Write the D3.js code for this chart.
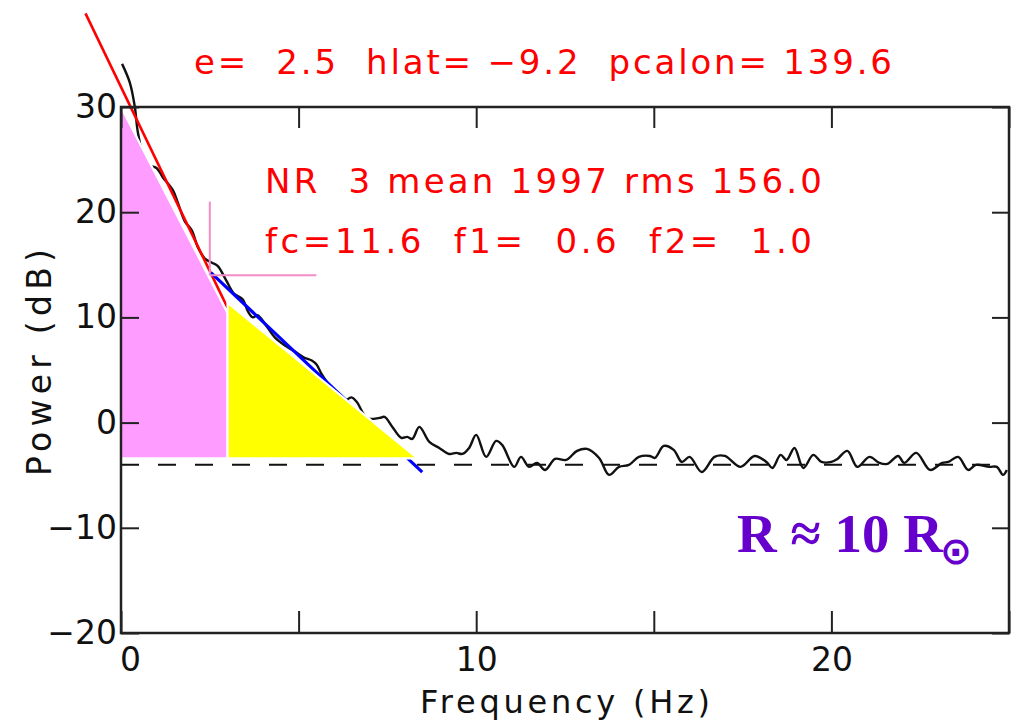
<!DOCTYPE html>
<html>
<head>
<meta charset="utf-8">
<script src="https://cdn.jsdelivr.net/npm/d3@7"></script>
<style>
  body { margin: 0; background: #fff; }
  svg { display: block; }
</style>
</head>
<body>
<script>
var width = 1014;
var height = 726;

// spectrum (Hz, dB)
var freq = [0.03, 0.25, 0.39, 0.48, 0.72, 1.00, 1.18, 1.46, 1.60, 1.80, 1.99, 2.16, 2.36, 2.56, 2.72, 2.95,
    3.17, 3.43, 3.57, 3.71, 3.85, 4.07, 4.33, 4.63, 4.92, 5.14, 5.37, 5.51, 5.65, 6.01, 6.24, 6.49, 6.63,
    6.94, 7.28, 7.42, 7.64, 7.89, 8.06, 8.20, 8.40, 8.68, 8.96, 9.24, 9.44, 9.61, 9.80, 10.00, 10.28,
    10.56, 10.73, 11.07, 11.26, 11.49, 11.71, 11.94, 12.22, 12.53, 12.84, 13.12, 13.46, 13.74, 14.02,
    14.30, 14.58, 14.89, 15.03, 15.28, 15.56, 15.79, 16.01, 16.35, 16.71, 17.00, 17.44, 17.84, 18.17,
    18.34, 18.57, 18.74, 18.96, 19.21, 19.49, 19.72, 20.00, 20.17, 20.45, 20.73, 21.07, 21.35, 21.57,
    21.88, 22.05, 22.39, 22.78, 23.12, 23.29, 23.57, 23.85, 24.07, 24.44, 24.66, 24.83, 24.94];
var power = [34.1, 32.3, 30.0, 27.5, 24.6, 24.2, 23.3, 22.1, 20.9, 19.1, 18.3, 16.7, 15.6, 15.2, 14.9, 13.6,
    12.3, 11.7, 10.6, 10.0, 10.2, 9.3, 8.1, 7.3, 6.7, 6.2, 5.9, 5.5, 4.6, 2.9, 2.0, 2.4, 2.0,
    0.4, 0.45, 0.54, -0.41, -1.45, -1.36, -1.55, -0.41, -1.84, -2.41, -2.98, -2.88, -2.98, -2.41, -1.17, -3.26,
    -1.74, -2.12, -4.21, -3.26, -4.21, -3.83, -4.50, -3.45, -3.55, -2.69, -2.50, -3.36, -4.97, -4.21,
    -4.02, -3.26, -3.17, -3.36, -2.22, -2.59, -3.74, -3.26, -4.69, -3.26, -3.17, -4.21, -3.17, -3.74,
    -4.31, -3.07, -3.55, -2.41, -4.31, -3.07, -3.74, -3.74, -3.45, -2.69, -4.21, -3.26, -3.83, -3.93,
    -3.17, -3.83, -2.88, -4.50, -3.83, -3.74, -3.26, -4.50, -4.02, -4.21, -4.21, -4.97, -4.50];

var pinkArea = [[0, 30], [3.0, 10.4], [3.0, -3.4], [0, -3.4]];
var yellowArea = [[3.0, 11.4], [8.35, -3.4], [3.0, -3.4]];
var redFit = [[-1.0, 38.9], [3.0, 10.9]];
var blueFit = [[2.53, 14.25], [8.48, -4.7]];
var crossV = [[2.5, 21.0], [2.5, 14.0]];
var crossH = [[2.5, 14.0], [5.5, 14.0]];
var noiseLevel = -4.0;

var xTicks = [0, 5, 10, 15, 20, 25];
var xLabels = [0, 10, 20];
var yTicks = [-20, -10, 0, 10, 20, 30];

var infoLines = [
    "e=  2.5  hlat= \u22129.2  pcalon= 139.6",
    "NR  3 mean 1997 rms 156.0",
    "fc=11.6  f1=  0.6  f2=  1.0"
];

var x = d3.scaleLinear().domain([0, 25]).range([121, 1009]);
var y = d3.scaleLinear().domain([-20, 30]).range([633, 107]);

var font = "'DejaVu Sans', sans-serif";

var svg = d3.select("body").append("svg")
    .attr("width", width)
    .attr("height", height);

var line = d3.line()
    .x(function(d) { return x(d[0]); })
    .y(function(d) { return y(d[1]); });

// measured spectrum
svg.append("path")
    .datum(d3.zip(freq, power))
    .attr("fill", "none")
    .attr("stroke", "#111")
    .attr("stroke-width", 2.4)
    .attr("d", line.curve(d3.curveCatmullRom));

line.curve(d3.curveLinear);

svg.append("path").datum(redFit)
    .attr("d", line).attr("stroke", "#ff0000").attr("stroke-width", 2.6);
svg.append("path").datum(blueFit)
    .attr("d", line).attr("stroke", "#0000ff").attr("stroke-width", 3.2);

// shaded power areas
svg.append("path").datum(pinkArea)
    .attr("d", function(d) { return line(d) + "Z"; })
    .attr("fill", "#ff9cff").attr("stroke", "#fff").attr("stroke-width", 2.2);
svg.append("path").datum(yellowArea)
    .attr("d", function(d) { return line(d) + "Z"; })
    .attr("fill", "#ffff00").attr("stroke", "#fff").attr("stroke-width", 2.2);

svg.append("path").datum(crossV)
    .attr("d", line).attr("stroke", "#f48cc8").attr("stroke-width", 2);
svg.append("path").datum(crossH)
    .attr("d", line).attr("stroke", "#f48cc8").attr("stroke-width", 2);

svg.append("line")
    .attr("x1", x(0)).attr("x2", x(25))
    .attr("y1", y(noiseLevel)).attr("y2", y(noiseLevel))
    .attr("stroke", "#111")
    .attr("stroke-width", 2)
    .attr("stroke-dasharray", "18,19");

// frame and ticks
svg.append("rect")
    .attr("x", x(0)).attr("y", y(30))
    .attr("width", x(25) - x(0)).attr("height", y(-20) - y(30))
    .attr("fill", "none").attr("stroke", "#222").attr("stroke-width", 2.5);

var bottom = svg.append("g")
    .attr("transform", "translate(0," + y(-20) + ")")
    .call(d3.axisBottom(x).tickValues(xTicks).tickSizeInner(-22).tickSizeOuter(0)
        .tickFormat(function(d) { return xLabels.indexOf(d) >= 0 ? d : ""; }));
bottom.selectAll("text").attr("y", 38).attr("dy", 0)
    .attr("dx", function(d) { return d == 0 ? 9 : 0; });

var top = svg.append("g")
    .attr("transform", "translate(0," + y(30) + ")")
    .call(d3.axisTop(x).tickValues(xTicks).tickSizeInner(-21).tickSizeOuter(0).tickFormat(""));

var left = svg.append("g")
    .attr("transform", "translate(" + x(0) + ",0)")
    .call(d3.axisLeft(y).tickValues(yTicks).tickSizeInner(-18).tickSizeOuter(0)
        .tickPadding(4).tickFormat(function(d) { return d < 0 ? "\u2212" + Math.abs(d) : d; }));

var right = svg.append("g")
    .attr("transform", "translate(" + x(25) + ",0)")
    .call(d3.axisRight(y).tickValues(yTicks).tickSizeInner(-17).tickSizeOuter(0).tickFormat(""));

svg.selectAll(".domain").remove();
svg.selectAll(".tick line").attr("stroke", "#222").attr("stroke-width", 2);
svg.selectAll(".tick text")
    .attr("fill", "#111")
    .style("font-family", font)
    .style("font-size", "33px");

// axis titles
svg.append("text")
    .attr("x", 420).attr("y", 713)
    .attr("textLength", 290).attr("lengthAdjust", "spacing")
    .style("font-family", font).style("font-size", "32px").attr("fill", "#111")
    .text("Frequency (Hz)");

svg.append("text")
    .attr("transform", "translate(51,476) rotate(-90)")
    .attr("textLength", 227).attr("lengthAdjust", "spacing")
    .style("font-family", font).style("font-size", "33px").attr("fill", "#111")
    .text("Power (dB)");

// fit parameters
var infoPos = [[194, 74, 698], [265, 193, 557], [265, 253, 547]];
svg.selectAll(".info")
    .data(infoLines)
    .enter().append("text")
    .attr("class", "info")
    .attr("x", function(d, i) { return infoPos[i][0]; })
    .attr("y", function(d, i) { return infoPos[i][1]; })
    .attr("textLength", function(d, i) { return infoPos[i][2]; })
    .attr("lengthAdjust", "spacing")
    .style("white-space", "pre")
    .style("font-family", font)
    .style("font-size", "34px")
    .attr("fill", "#ff0000")
    .text(function(d) { return d; });

var label = svg.append("text")
    .attr("x", 737).attr("y", 552)
    .attr("fill", "#6600cc")
    .style("font-family", "'Liberation Serif', 'Times New Roman', serif")
    .style("font-weight", "bold")
    .style("font-size", "55px")
    .style("white-space", "pre");
label.append("tspan").text("R \u2248 10 R");
label.append("tspan")
    .attr("dx", -3)
    .attr("dy", 12)
    .style("font-family", "'DejaVu Sans', sans-serif")
    .style("font-size", "38px")
    .text("\u2299");
</script>
</body>
</html>
